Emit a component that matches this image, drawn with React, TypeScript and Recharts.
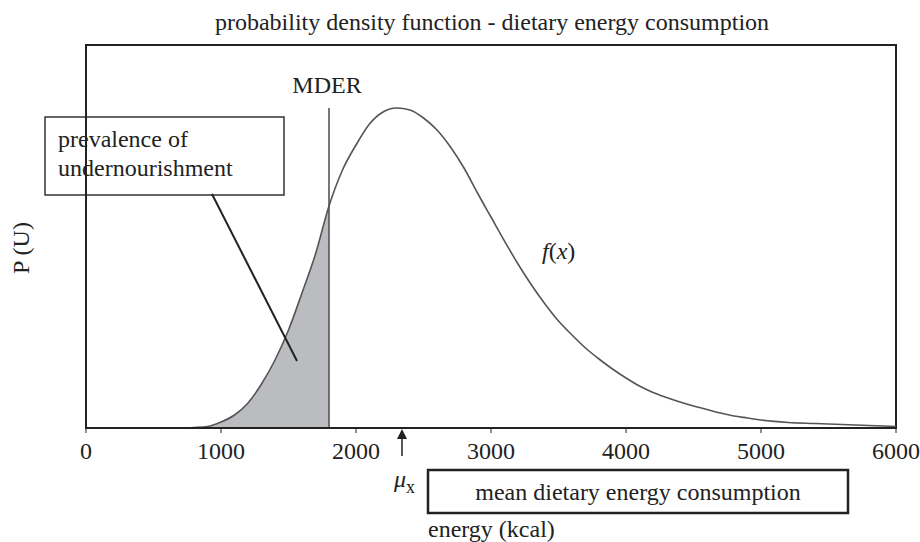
import { ComposedChart, Line, Area, XAxis, YAxis, ReferenceLine, ReferenceArea } from 'recharts';

const energy = [0, 200, 400, 600, 700, 800, 900, 1000, 1100, 1200, 1300, 1400, 1500, 1600, 1700, 1800, 1900, 2000, 2100, 2200, 2300, 2400, 2500, 2600, 2700, 2800, 2900, 3000, 3100, 3200, 3300, 3400, 3500, 3600, 3700, 3800, 3900, 4000, 4100, 4200, 4300, 4400, 4500, 4600, 4700, 4800, 4900, 5000, 5200, 5400, 5600, 5800, 6000];
const density = [0, 0, 0, 0, 0, 0.5, 1.5, 6, 13, 25, 44, 68, 98, 135, 174, 222, 258, 283, 304, 316, 320, 318, 310, 298, 281, 260, 235, 211, 187, 164, 143, 124, 107, 93, 80, 69, 59, 50, 42, 35.5, 30.5, 26, 22, 18.5, 15, 12, 10, 8, 5.5, 4.5, 3.5, 2.5, 1.5];
const xTicks = [0, 1000, 2000, 3000, 4000, 5000, 6000];
const MDER = 1800;
const yMax = 383;
// pointer from the "prevalence" box into the shaded tail
const pointer = [{ x: 933, y: 234 }, { x: 1563, y: 67 }];

const data = energy.map((e, i) => ({
  energy: e,
  density: density[i],
  shaded: e <= MDER ? density[i] : null,
}));

const serif = '"Liberation Serif", "Times New Roman", serif';
const ink = '#222';
const fs = 24;

const Annotations = () => (
  <g fontFamily={serif} fill={ink}>
    <text x={492} y={30} fontSize={fs} textAnchor="middle">probability density function - dietary energy consumption</text>
    <text x={327} y={93} fontSize={fs} textAnchor="middle">MDER</text>
    <rect x={45} y={117} width={239} height={78} fill="#fff" stroke="#333" strokeWidth={1.5} />
    <text x={58} y={147} fontSize={fs}>prevalence of</text>
    <text x={58} y={176} fontSize={fs}>undernourishment</text>
    <text x={542} y={259} fontSize={fs}>
      <tspan fontStyle="italic">f</tspan>(<tspan fontStyle="italic">x</tspan>)
    </text>
    <text x={29} y={248} fontSize={fs} textAnchor="middle" transform="rotate(-90, 29, 248)">P (U)</text>
    <polygon points="402,429 397,439 407,439" fill={ink} />
    <line x1={402} y1={438} x2={402} y2={456} stroke={ink} strokeWidth={1.5} />
    <text x={394} y={487} fontSize={fs} fontStyle="italic">μ</text>
    <text x={406} y={493} fontSize={18}>x</text>
    <rect x={428} y={470} width={420} height={43} fill="#fff" stroke={ink} strokeWidth={2.5} />
    <text x={638} y={500} fontSize={fs} textAnchor="middle">mean dietary energy consumption</text>
    <text x={428} y={537} fontSize={fs}>energy (kcal)</text>
  </g>
);

const App = () => {
  return (
    <div style={{ position: 'absolute', left: 0, top: 0, background: '#fff' }}>
      <ComposedChart width={920} height={542} data={data} margin={{ top: 45, right: 24, left: 86, bottom: 84 }}>
        <XAxis
          dataKey="energy"
          type="number"
          domain={[0, 6000]}
          ticks={xTicks}
          height={30}
          axisLine={{ stroke: ink, strokeWidth: 2 }}
          tickLine={{ stroke: ink }}
          tickSize={5}
          tickMargin={9}
          tick={{ fill: ink, fontSize: fs, fontFamily: serif }}
          interval={0}
        />
        <YAxis type="number" domain={[0, yMax]} hide />
        <Area
          dataKey="shaded"
          type="monotone"
          fill="#bbbcc0"
          fillOpacity={1}
          stroke="none"
          isAnimationActive={false}
          connectNulls={false}
        />
        <Line dataKey="density" type="monotone" stroke="#555" strokeWidth={1.6} dot={false} isAnimationActive={false} />
        <ReferenceArea x1={0} x2={6000} y1={0} y2={yMax} fill="none" stroke={ink} strokeWidth={2} />
        <Annotations />
        <ReferenceLine segment={[{ x: MDER, y: 0 }, { x: MDER, y: density[energy.indexOf(2300)] }]} stroke="#555" strokeWidth={1.6} />
        <ReferenceLine segment={pointer} stroke={ink} strokeWidth={2} ifOverflow="visible" />
      </ComposedChart>
    </div>
  );
};

export default App;
